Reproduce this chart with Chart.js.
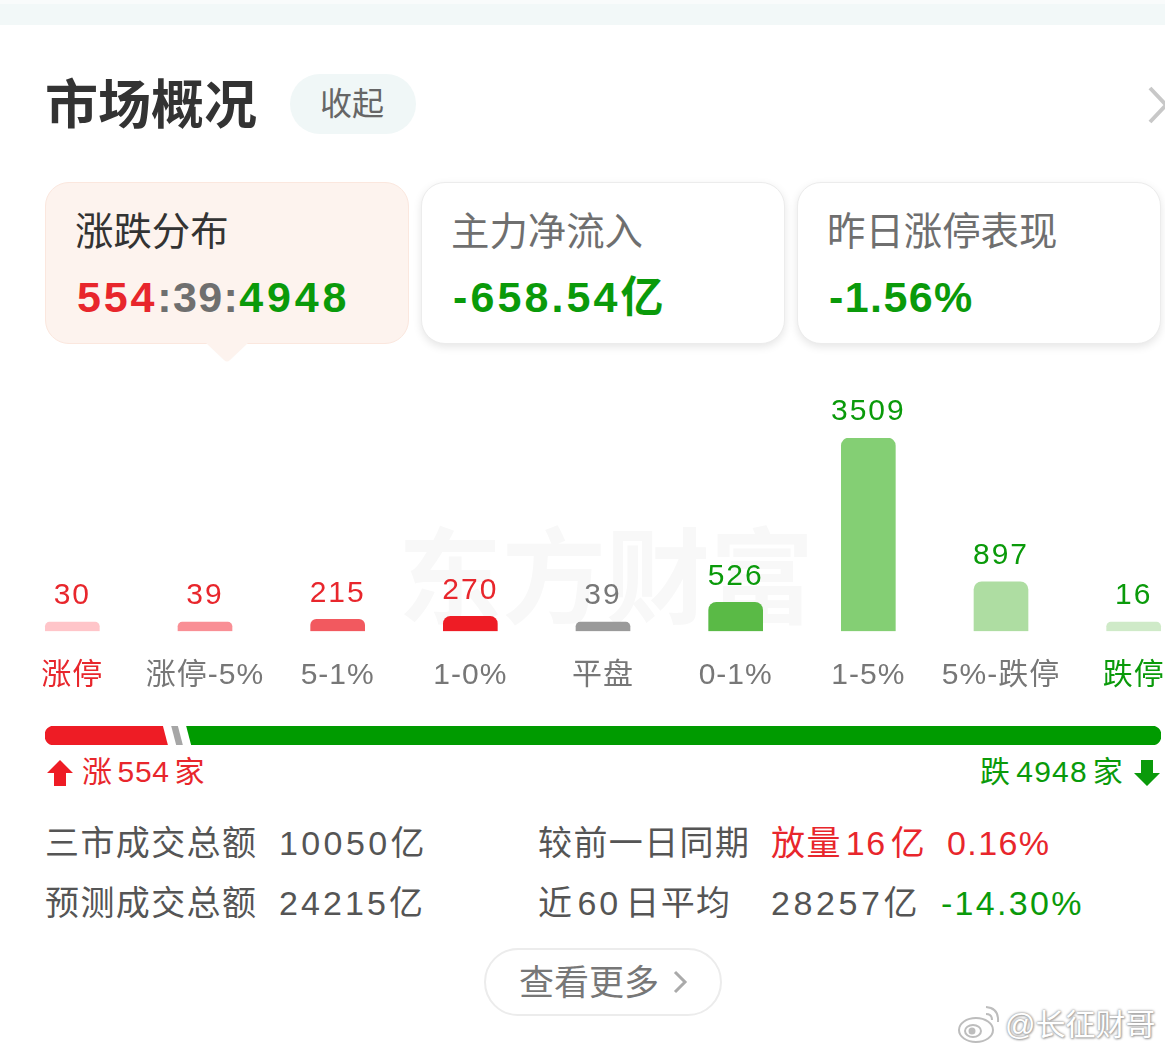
<!DOCTYPE html>
<html lang="zh-CN">
<head>
<meta charset="UTF-8">
<title>市场概况</title>
<script src="https://cdn.jsdelivr.net/npm/chart.js"></script>
<style>
  html, body { margin: 0; padding: 0; background: #fff; }
  body { position: relative; width: 1165px; height: 1053px; overflow: hidden;
         font-family: "Liberation Sans", "Noto Sans CJK SC", sans-serif; }
  .t { position: absolute; white-space: nowrap; line-height: 1; transform: translateY(-50%); }
  .card { position: absolute; top: 182px; width: 362px; height: 160px; border-radius: 24px;
          background: #fff; border: 1px solid #ececec; box-shadow: 0 3px 8px rgba(0,0,0,.1); }
  .val { font-weight: 700; font-size: 43px; letter-spacing: 2.8px; }
  .row { font-size: 34px; letter-spacing: 1.4px; color: #555; }
  .n { letter-spacing: 3.1px; }
  .m { margin: 0 4px; letter-spacing: 3px; }
  .red { color: #e8262c; } .green { color: #0a9a0a; } .gray { color: #6f6f6f; } .dark { color: #333; }
  canvas { position: absolute; }
</style>
</head>
<body>
  <div style="position:absolute;left:0;top:0;width:1165px;height:4px;background:#f9fbfb"></div>
  <div style="position:absolute;left:0;top:4px;width:1165px;height:21px;background:#f2f8f8"></div>

  <div class="t dark" style="left:45px;top:105px;font-size:53px;font-weight:700">市场概况</div>
  <div style="position:absolute;left:290px;top:74px;width:126px;height:60px;border-radius:30px;background:#f0f7f7"></div>
  <div class="t" style="left:320px;top:104px;font-size:32px;color:#666">收起</div>
  <svg style="position:absolute;left:1140px;top:80px" width="25" height="50"><path d="M10 8 L26 25 L10 42" fill="none" stroke="#c8c8c8" stroke-width="4"/></svg>

  <div class="card" style="left:45px;background:#fdf3ee;border-color:#fbe7de;box-shadow:none"></div>
  <svg style="position:absolute;left:205px;top:342px" width="44" height="22"><path d="M1 1 L19 18 Q22 21 25 18 L43 1 Z" fill="#fdf3ee"/></svg>
  <div class="card" style="left:421px"></div>
  <div class="card" style="left:797px"></div>

  <div class="t dark" style="left:75px;top:232px;font-size:38.4px">涨跌分布</div>
  <div class="t gray" style="left:451px;top:232px;font-size:38.4px">主力净流入</div>
  <div class="t gray" style="left:827px;top:232px;font-size:38.4px">昨日涨停表现</div>
  <div class="t val" style="left:77px;top:297px"><span class="red">554</span><span class="gray" style="letter-spacing:1.4px">:39:</span><span class="green" style="letter-spacing:3.8px">4948</span></div>
  <div class="t val green" style="left:453px;top:297px;letter-spacing:3.1px">-658.54亿</div>
  <div class="t val green" style="left:829px;top:297px;letter-spacing:1.4px">-1.56%</div>

  <div class="t" style="left:398px;top:580px;font-size:104px;font-weight:700;color:#f8f8f8">东方财富</div>

  <canvas id="barChart" width="1194" height="330" style="left:6px;top:390px"></canvas>
  <canvas id="splitChart" width="1116" height="19" style="left:45px;top:726px"></canvas>

  <svg style="position:absolute;left:47px;top:760px" width="26" height="26"><path d="M13 0 L26 13 L19 13 L19 26 L7 26 L7 13 L0 13 Z" fill="#ee1c25"/></svg>
  <div class="t red" style="left:82px;top:772px;font-size:30px;letter-spacing:.6px">涨<span style="margin:0 5px">554</span>家</div>
  <div class="t green" style="right:41px;top:772px;font-size:30px;letter-spacing:1.2px">跌<span style="margin:0 5px">4948</span>家</div>
  <svg style="position:absolute;left:1134px;top:760px" width="26" height="26"><path d="M13 26 L26 13 L19 13 L19 0 L7 0 L7 13 L0 13 Z" fill="#0a9a0a"/></svg>

  <div class="t row" style="left:45px;top:843px">三市成交总额</div>
  <div class="t row n" style="left:279px;top:843px;letter-spacing:3.4px">10050亿</div>
  <div class="t row" style="left:538px;top:843px">较前一日同期</div>
  <div class="t row red" style="left:771px;top:843px">放量<span class="m" style="letter-spacing:1.5px">16</span>亿</div>
  <div class="t row red" style="left:947px;top:843px">0.16%</div>
  <div class="t row" style="left:45px;top:903px">预测成交总额</div>
  <div class="t row n" style="left:279px;top:903px">24215亿</div>
  <div class="t row" style="left:538px;top:903px">近<span class="m">60</span>日平均</div>
  <div class="t row n" style="left:771px;top:903px;letter-spacing:3.6px">28257亿</div>
  <div class="t row green" style="left:941px;top:903px;letter-spacing:2.3px">-14.30%</div>

  <div style="position:absolute;left:484px;top:948px;width:234px;height:64px;border-radius:34px;border:2px solid #ececec"></div>
  <div class="t" style="left:519px;top:982px;font-size:35px;color:#777">查看更多</div>
  <svg style="position:absolute;left:672px;top:968px" width="18" height="28"><path d="M3 4 L13 14 L3 24" fill="none" stroke="#aaa" stroke-width="3"/></svg>

  <svg style="position:absolute;left:956px;top:1004px" width="46" height="40" fill="none" stroke="#bdbdbd" stroke-width="2">
    <ellipse cx="20" cy="26" rx="17" ry="12" fill="#fff"/>
    <ellipse cx="17" cy="27" rx="8" ry="6"/>
    <circle cx="16" cy="27" r="2.5" fill="#bdbdbd"/>
    <path d="M30 3 Q43 4 42 18"/><path d="M30 10 Q36 10 36 16"/>
  </svg>
  <div class="t" style="left:1005px;top:1025px;font-size:30px;color:#fff;text-shadow:0 0 2px #999,0 0 3px #aaa,1px 1px 2px #aaa">@长征财哥</div>

<script>
// 涨跌分布
const categories = ['涨停', '涨停-5%', '5-1%', '1-0%', '平盘', '0-1%', '1-5%', '5%-跌停', '跌停'];
const counts = [30, 39, 215, 270, 39, 526, 3509, 897, 16];
const barColors = ['#ffc5c9', '#f98f95', '#f2595f', '#ee1c25', '#9a9a9a', '#5aba46', '#84cf74', '#aedda2', '#cfeac8'];
const countColors = ['#e8262c', '#e8262c', '#e8262c', '#e8262c', '#777777', '#0a9a0a', '#0a9a0a', '#0a9a0a', '#0a9a0a'];
const tickColors = ['#e8262c', '#777777', '#777777', '#777777', '#777777', '#777777', '#777777', '#777777', '#0a9a0a'];

// share of the strip under the bars, in % (not strictly proportional to the counts)
const splitNames = ['涨', '平', '跌'];
const splitShares = [11.16, 1.34, 87.5];
const splitColors = ['#ee1c25', '#a6a6a6', '#009b00'];

const chartFont = '"Liberation Sans", "Noto Sans CJK SC", sans-serif';

const spacedText = {
  id: 'spacedText',
  beforeDraw(chart) { chart.ctx.letterSpacing = '1px'; }
};

// count above each bar
const countLabels = {
  id: 'countLabels',
  afterDatasetsDraw(chart) {
    const ctx = chart.ctx;
    const bars = chart.getDatasetMeta(0).data;
    ctx.save();
    ctx.font = '30px ' + chartFont;
    ctx.letterSpacing = '2px';
    ctx.textAlign = 'center';
    ctx.textBaseline = 'middle';
    bars.forEach(function(bar, i) {
      ctx.fillStyle = countColors[i];
      ctx.fillText(counts[i], bar.x, bar.y - 26);
    });
    ctx.restore();
  }
};

new Chart(document.getElementById('barChart'), {
  type: 'bar',
  data: {
    labels: categories,
    datasets: [{
      data: counts,
      backgroundColor: barColors,
      barThickness: 54,
      minBarLength: 9,
      borderSkipped: false,
      borderRadius: { topLeft: 8, topRight: 8, bottomLeft: 0, bottomRight: 0 }
    }]
  },
  options: {
    responsive: false,
    animation: false,
    layout: { padding: { top: 48 } },
    plugins: { legend: { display: false }, tooltip: { enabled: false } },
    scales: {
      y: { display: false, min: 0, max: 3509 },
      x: {
        grid: { display: false, drawTicks: false },
        border: { display: false },
        ticks: {
          autoSkip: false, maxRotation: 0, padding: 26.4,
          font: { size: 30, family: chartFont },
          color: tickColors
        }
      }
    }
  },
  plugins: [spacedText, countLabels]
});

// white slanted cuts between the strip segments
const slantCuts = {
  id: 'slantCuts',
  afterDatasetsDraw(chart) {
    const ctx = chart.ctx;
    const area = chart.chartArea;
    ctx.save();
    ctx.strokeStyle = '#fff';
    ctx.lineWidth = 8;
    chart.data.datasets.slice(0, -1).forEach(function(ds, i) {
      const x = chart.getDatasetMeta(i).data[0].x;
      ctx.beginPath();
      ctx.moveTo(x - 3, area.top - 2);
      ctx.lineTo(x + 3, area.bottom + 2);
      ctx.stroke();
    });
    ctx.restore();
  }
};

new Chart(document.getElementById('splitChart'), {
  type: 'bar',
  data: {
    labels: ['split'],
    datasets: splitNames.map(function(name, i) {
      return {
        label: name,
        data: [splitShares[i]],
        backgroundColor: splitColors[i],
        barThickness: 19,
        borderSkipped: false,
        borderRadius: i === 0 ? { topLeft: 9, bottomLeft: 9, topRight: 0, bottomRight: 0 }
          : i === splitNames.length - 1 ? { topLeft: 0, bottomLeft: 0, topRight: 9, bottomRight: 9 } : 0
      };
    })
  },
  options: {
    indexAxis: 'y',
    responsive: false,
    animation: false,
    plugins: { legend: { display: false }, tooltip: { enabled: false } },
    scales: {
      x: { display: false, stacked: true, min: 0, max: 100 },
      y: { display: false, stacked: true }
    }
  },
  plugins: [slantCuts]
});
</script>
</body>
</html>
